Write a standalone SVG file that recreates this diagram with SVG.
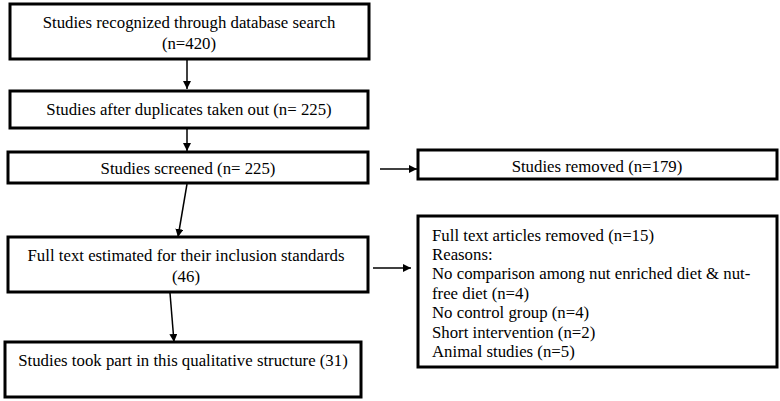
<svg xmlns="http://www.w3.org/2000/svg" width="780" height="401" viewBox="0 0 780 401">
<style>
.box{fill:#fff;stroke:#000;stroke-width:3}
.t{font-family:'Liberation Serif','Times New Roman',Times,serif;font-size:16.8px;fill:#000}
.c{text-anchor:middle}
.ln{stroke:#000;stroke-width:1.5;fill:none;marker-end:url(#ah)}
</style>
<defs>
<marker id="ah" viewBox="0 0 10 10" refX="10" refY="5" markerWidth="8" markerHeight="8" markerUnits="userSpaceOnUse" orient="auto"><path d="M0,0L10,5L0,10z" fill="#000"/></marker>
</defs>
<rect width="780" height="401" fill="#fff"/>
<g id="connectors">
<line class="ln" x1="187" y1="60" x2="187" y2="89"/>
<line class="ln" x1="187" y1="129" x2="187" y2="151"/>
<line class="ln" x1="187" y1="184" x2="178" y2="237"/>
<line class="ln" x1="170" y1="293" x2="174" y2="342"/>
<line class="ln" x1="380" y1="169" x2="417" y2="169"/>
<line class="ln" x1="373" y1="268" x2="411" y2="268"/>
</g>
<g id="n1"><rect class="box" x="10" y="4" width="359" height="55"/>
<text class="t c" x="189" y="28">Studies recognized through database search</text>
<text class="t c" x="189" y="49">(n=420)</text></g>
<g id="n2"><rect class="box" x="10" y="91" width="358" height="37"/>
<text class="t c" x="189" y="115">Studies after duplicates taken out (n= 225)</text></g>
<g id="n3"><rect class="box" x="8" y="152" width="360" height="31"/>
<text class="t c" x="188" y="174">Studies screened (n= 225)</text></g>
<g id="n4"><rect class="box" x="8" y="237" width="360" height="55"/>
<text class="t c" x="186" y="261">Full text estimated for their inclusion standards</text>
<text class="t c" x="186" y="282">(46)</text></g>
<g id="n5"><rect class="box" x="5" y="342" width="356" height="55"/>
<text class="t c" x="183" y="366">Studies took part in this qualitative structure (31)</text></g>
<g id="n6"><rect class="box" x="418" y="150" width="359" height="29"/>
<text class="t c" x="597" y="172">Studies removed (n=179)</text></g>
<g id="n7"><rect class="box" x="418" y="216" width="359" height="151"/>
<text class="t" x="432" y="241">Full text articles removed (n=15)</text>
<text class="t" x="432" y="260">Reasons:</text>
<text class="t" x="432" y="279">No comparison among nut enriched diet &amp; nut-</text>
<text class="t" x="432" y="299">free diet (n=4)</text>
<text class="t" x="432" y="318">No control group (n=4)</text>
<text class="t" x="432" y="338">Short intervention (n=2)</text>
<text class="t" x="432" y="357">Animal studies (n=5)</text></g>
</svg>
